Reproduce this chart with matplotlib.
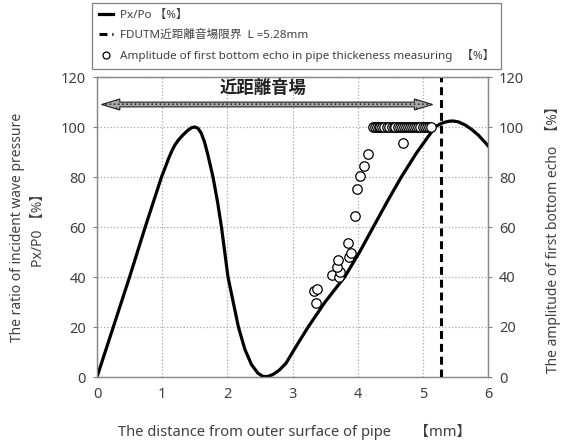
import matplotlib.pyplot as plt
from matplotlib.patches import Polygon

plt.rcParams['font.family'] = ['Noto Sans', 'Noto Sans CJK JP', 'DejaVu Sans']

# Px/Po curve
dist = [0, 0.1, 0.25, 0.5, 0.74, 0.99, 1.05, 1.1, 1.15, 1.2, 1.25, 1.3, 1.35,
        1.4, 1.45, 1.5, 1.55, 1.6, 1.65, 1.7, 1.78, 1.85, 1.91, 1.96, 2.01,
        2.09, 2.17, 2.27, 2.37, 2.47, 2.55, 2.62, 2.7, 2.8, 2.9, 3.05, 3.24,
        3.5, 3.8, 4.03, 4.24, 4.45, 4.67, 4.9, 5.05, 5.19, 5.25, 5.3, 5.35,
        5.4, 5.47, 5.55, 5.65, 5.75, 5.85, 5.95, 6.0]
ratio = [0, 8, 20, 40, 60, 80, 84, 87.5, 90.5, 93, 94.8, 96.3, 97.6,
         98.8, 99.7, 100, 99.5, 97.5, 94, 89, 80, 70, 60, 50, 40,
         30, 20, 11, 5, 1.5, 0.2, 0.2, 1, 2.8, 5.5, 12, 20,
         30, 40, 50, 60, 70, 80, 89.5, 95, 100, 101, 101.6, 102,
         102.3, 102.4, 102, 100.8, 99, 96.8, 94, 92.5]

# first bottom echo amplitude
echo_x = [3.36, 3.33, 3.37, 3.61, 3.72, 3.73, 3.68, 3.70, 3.86, 3.90, 3.85,
          3.96, 3.99, 4.04, 4.09, 4.16, 4.70,
          4.23, 4.26, 4.29, 4.32, 4.35, 4.38, 4.41, 4.45, 4.48, 4.52, 4.55,
          4.58, 4.62, 4.65, 4.68, 4.71, 4.74, 4.77, 4.80, 4.84, 4.87, 4.90,
          4.93, 4.96, 5.00, 5.03, 5.06, 5.09, 5.12]
echo_y = [29.5, 34.5, 35.1, 40.8, 40.1, 42.1, 44.1, 46.8, 47.9, 49.7, 53.7,
          64.4, 75.2, 80.4, 84.4, 89.2, 93.5,
          100, 100, 100, 100, 100, 100, 100, 100, 100, 100, 100,
          100, 100, 100, 100, 100, 100, 100, 100, 100, 100, 100,
          100, 100, 100, 100, 100, 100, 100]

near_field = 5.28
arrow_x0, arrow_x1, arrow_y = 0.07, 5.15, 109

txt = '#404040'
fig = plt.figure(figsize=(5.62, 4.40), dpi=100)
ax = fig.add_axes([97/562, 63/440, 391/562, 300/440])
ax2 = ax.twinx()

l1, = ax.plot(dist, ratio, color='black', lw=2.3, zorder=3, solid_joinstyle='round')
l2 = ax.axvline(near_field, color='black', lw=2.2, ls=(0, (2.6, 1.6)), zorder=3)
sc, = ax2.plot(echo_x, echo_y, 'o', ms=6.8, mfc='white', mec='black', mew=0.9)

# double headed arrow for the near field zone
hw, sw, hl = 2.2, 0.95, 0.28
verts = [(arrow_x0, arrow_y), (arrow_x0 + hl, arrow_y + hw), (arrow_x0 + hl, arrow_y + sw),
         (arrow_x1 - hl, arrow_y + sw), (arrow_x1 - hl, arrow_y + hw), (arrow_x1, arrow_y),
         (arrow_x1 - hl, arrow_y - hw), (arrow_x1 - hl, arrow_y - sw),
         (arrow_x0 + hl, arrow_y - sw), (arrow_x0 + hl, arrow_y - hw)]
plt.rcParams['hatch.linewidth'] = 0.6
ax.add_patch(Polygon(verts, closed=True, facecolor='#a8a8a8', edgecolor='#202020',
                     lw=0.8, hatch='....', zorder=4))
ax.text((arrow_x0 + arrow_x1) / 2 - 0.06, 115.8, '近距離音場', ha='center', va='center',
        fontsize=12.5, fontweight='bold', color='#222222')

for a in (ax, ax2):
    a.set_xlim(0, 6)
    a.set_ylim(0, 120)
    a.set_yticks(range(0, 121, 20))
    a.tick_params(labelsize=10.5, colors='#808080', labelcolor=txt, length=3, width=0.8)
    for s in a.spines.values():
        s.set_color('#8a8a8a')
        s.set_linewidth(0.9)
ax.set_xticks(range(0, 7))
ax.tick_params(axis='x', length=0, pad=7)
ax.tick_params(axis='y', pad=5)
ax2.tick_params(axis='y', pad=5)
ax.grid(True, color='#a8a8a8', ls=':', lw=0.9)
ax.set_axisbelow(True)

ax.set_xlabel('The distance from outer surface of pipe      【mm】', fontsize=10.6, color=txt)
ax.xaxis.set_label_coords(0.505, -0.155)
ax.set_ylabel('The ratio of incident wave pressure\nPx/P0 【%】', fontsize=10,
              color=txt, linespacing=1.6)
ax.yaxis.set_label_coords(-0.13, 0.5)
ax2.set_ylabel('The amplitude of first bottom echo  【%】', fontsize=10, color=txt)
ax2.yaxis.set_label_coords(1.146, 0.47)

leg = fig.legend([l1, l2, sc],
                 ['Px/Po 【%】', 'FDUTM近距離音場限界  L =5.28mm',
                  'Amplitude of first bottom echo in pipe thickeness measuring   【%】'],
                 loc='upper left', bbox_to_anchor=(92/562, 1 - 3/440), fontsize=8.4,
                 frameon=True, fancybox=False, edgecolor='#808080', framealpha=1,
                 handlelength=1.2, handletextpad=0.6, labelspacing=0.72,
                 borderpad=0.6, borderaxespad=0)
leg.get_frame().set_linewidth(0.9)
for t in leg.get_texts():
    t.set_color(txt)
leg.legend_handles[0].set_linewidth(2.3)
leg.legend_handles[2].set_markersize(5)

fig.savefig('out.png', dpi=100)
